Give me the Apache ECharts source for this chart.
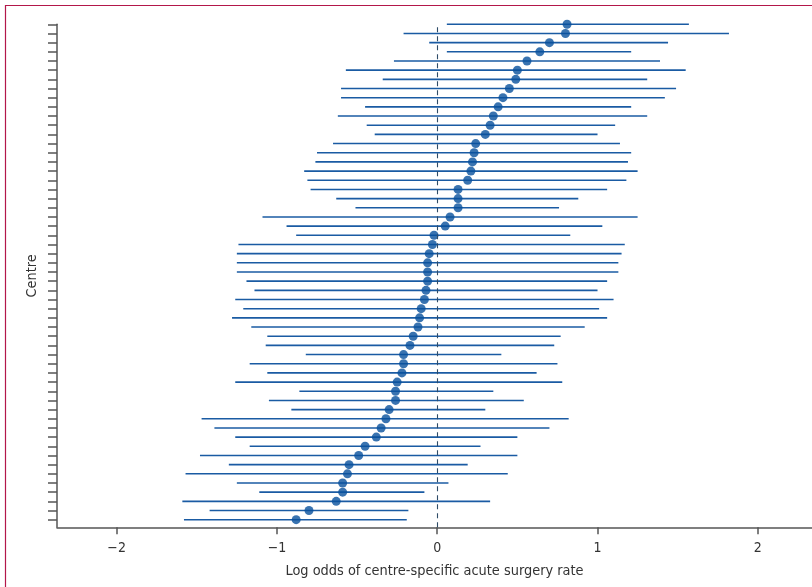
<!DOCTYPE html>
<html><head><meta charset="utf-8">
<script src="https://cdn.jsdelivr.net/npm/echarts@6/dist/echarts.min.js"></script>
<style>html,body{margin:0;padding:0;background:#fff}#c{width:812px;height:587px}</style>
</head><body><div id="c"></div>
<script>
// Centres ordered top to bottom as drawn
const estimate = [0.81,0.80,0.70,0.64,0.56,0.50,0.49,0.45,0.41,0.38,0.35,0.33,0.30,0.24,0.23,0.22,0.21,0.19,0.13,0.13,0.13,0.08,0.05,-0.02,-0.03,-0.05,-0.06,-0.06,-0.06,-0.07,-0.08,-0.10,-0.11,-0.12,-0.15,-0.17,-0.21,-0.21,-0.22,-0.25,-0.26,-0.26,-0.30,-0.32,-0.35,-0.38,-0.45,-0.49,-0.55,-0.56,-0.59,-0.59,-0.63,-0.80,-0.88];
const lower = [0.06,-0.21,-0.05,0.06,-0.27,-0.57,-0.34,-0.60,-0.60,-0.45,-0.62,-0.44,-0.39,-0.65,-0.75,-0.76,-0.83,-0.81,-0.79,-0.63,-0.51,-1.09,-0.94,-0.88,-1.24,-1.25,-1.25,-1.25,-1.19,-1.14,-1.26,-1.21,-1.28,-1.16,-1.06,-1.07,-0.82,-1.17,-1.06,-1.26,-0.86,-1.05,-0.91,-1.47,-1.39,-1.26,-1.17,-1.48,-1.30,-1.57,-1.25,-1.11,-1.59,-1.42,-1.58];
const upper = [1.57,1.82,1.44,1.21,1.39,1.55,1.31,1.49,1.42,1.21,1.31,1.11,1.00,1.14,1.21,1.19,1.25,1.18,1.06,0.88,0.76,1.25,1.03,0.83,1.17,1.15,1.13,1.13,1.06,1.00,1.10,1.01,1.06,0.92,0.77,0.73,0.40,0.75,0.62,0.78,0.35,0.54,0.30,0.82,0.70,0.50,0.27,0.50,0.19,0.44,0.07,-0.08,0.33,-0.18,-0.19];
const xTicks = [-2, -1, 0, 1, 2];
const xTitle = 'Log odds of centre-specific acute surgery rate';
const yTitle = 'Centre';

const n = estimate.length;
const rank = estimate.map((_, i) => n - i);
const font = "'Liberation Sans Narrow', 'DejaVu Sans Condensed', sans-serif";
const axisCol = '#555';

const chart = echarts.init(document.getElementById('c'), null, {renderer: 'canvas'});
chart.setOption({
  animation: false,
  backgroundColor: '#fff',
  graphic: [{
    type: 'rect', silent: true,
    shape: {x: 5.5, y: 5.5, width: 900, height: 900},
    style: {fill: 'none', stroke: '#b3174a', lineWidth: 1.2}
  }],
  grid: {left: 57, right: 0, top: 24.3, bottom: 59.7},
  xAxis: {
    type: 'value', min: -2.372, max: 2.338,
    axisLine: {show: true, onZero: false, lineStyle: {color: axisCol, width: 1.5}},
    axisTick: {show: true, customValues: xTicks, length: 7, lineStyle: {color: axisCol, width: 1.5}},
    axisLabel: {customValues: xTicks, formatter: v => (v < 0 ? '\u2212' + Math.abs(v) : String(v)),
      fontSize: 14, color: '#333', margin: 14, fontFamily: font},
    splitLine: {show: false},
    name: xTitle, nameLocation: 'middle', nameGap: 37,
    nameTextStyle: {fontSize: 14.4, color: '#333', fontFamily: font}
  },
  yAxis: {
    type: 'value', min: 0.17, max: 55,
    axisLine: {show: true, onZero: false, lineStyle: {color: axisCol, width: 1.5}},
    axisTick: {show: true, customValues: rank, length: 9, lineStyle: {color: axisCol, width: 1.5}},
    axisLabel: {show: false, customValues: rank},
    splitLine: {show: false},
    name: yTitle, nameLocation: 'middle', nameGap: 18, nameRotate: 90,
    nameTextStyle: {fontSize: 14.4, color: '#333', fontFamily: font}
  },
  series: [
    {
      type: 'custom',
      data: rank.map((r, i) => [lower[i], upper[i], r]),
      encode: {x: [0, 1], y: 2},
      renderItem: (params, api) => {
        const a = api.coord([api.value(0), api.value(2)]);
        const b = api.coord([api.value(1), api.value(2)]);
        return {type: 'line', shape: {x1: a[0], y1: a[1], x2: b[0], y2: b[1]},
          style: {stroke: '#1a5ba3', lineWidth: 1.6}};
      },
      markLine: {
        silent: true, symbol: 'none', label: {show: false},
        lineStyle: {type: [5, 4], color: '#2f4c68', width: 1.1},
        data: [{xAxis: 0}]
      },
      z: 2
    },
    {
      type: 'scatter',
      data: rank.map((r, i) => [estimate[i], r]),
      symbol: 'circle', symbolSize: 9,
      itemStyle: {color: '#08509c'},
      z: 3
    }
  ]
});
</script></body></html>
